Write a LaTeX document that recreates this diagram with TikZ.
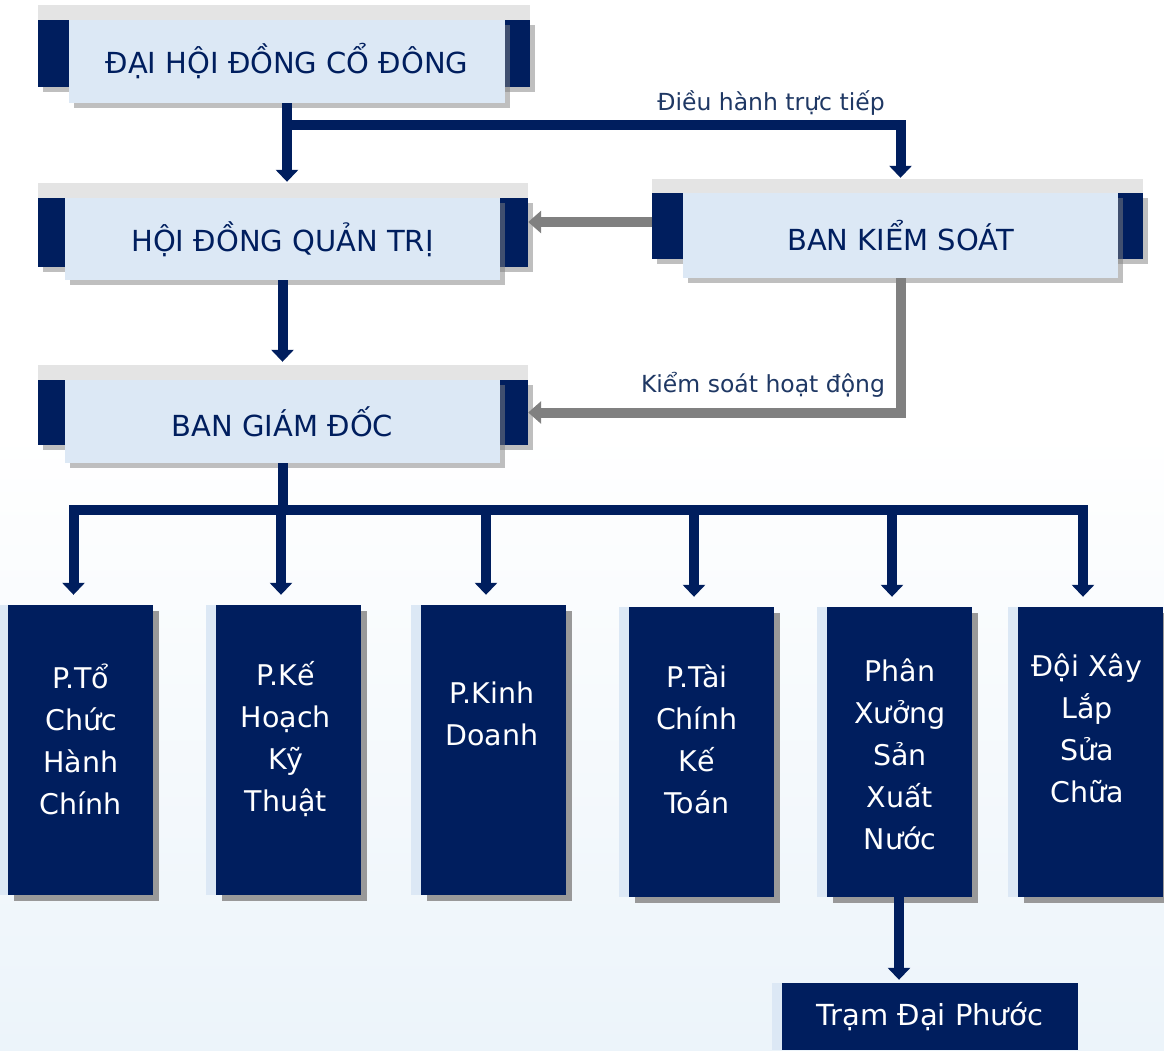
\documentclass[tikz,border=0pt]{standalone}
\usepackage{fontspec}
\setmainfont{DejaVu Sans}
\usetikzlibrary{arrows.meta,shadows,positioning}

\definecolor{navy}{RGB}{0,30,94}
\definecolor{paleblue}{RGB}{220,232,245}
\definecolor{bandgray}{RGB}{228,228,228}
\definecolor{linkgray}{RGB}{128,128,128}
\definecolor{labelblue}{RGB}{31,56,100}
\definecolor{bgblue}{RGB}{236,244,250}

\begin{document}
\begin{tikzpicture}[x=1pt,y=-1pt,
    hdr/.style={fill=paleblue, text=navy, inner sep=0pt, font=\fontsize{29}{34}\selectfont,
        drop shadow={shadow xshift=5pt, shadow yshift=-5pt, opacity=.5}},
    flank/.style={fill=navy, inner sep=0pt,
        drop shadow={shadow xshift=5pt, shadow yshift=-5pt, opacity=.5}},
    dept/.style={fill=navy, minimum width=145pt, minimum height=290pt, inner sep=0pt,
        drop shadow={shadow xshift=6pt, shadow yshift=-6pt, fill=gray!80, opacity=1}},
    depttext/.style={text=white, align=center, font=\fontsize{28.5}{42}\selectfont},
    navyline/.style={draw=navy, line width=10pt},
    navyarrow/.style={navyline, -{Triangle[width=22pt,length=12pt]}},
    grayarrow/.style={draw=linkgray, line width=10pt, -{Triangle[width=22pt,length=13pt]}},
    linklabel/.style={text=labelblue, font=\fontsize{23.5}{28}\selectfont}]

    % Background
    \useasboundingbox (0,0) rectangle (1164,1050);
    \fill[white] (0,0) rectangle (1164,1050);
    \shade[top color=white, bottom color=bgblue] (0,430) rectangle (1164,1050);

    % Header boxes
    \fill[bandgray] (38,5) rectangle (530,20);
    \node[flank, minimum width=492pt, minimum height=67pt] (dhdcdbar) at (284,53.5) {};
    \node[hdr, minimum width=436pt, minimum height=83pt] (dhdcd) at (287,61.5) {ĐẠI HỘI ĐỒNG CỔ ĐÔNG};

    \fill[bandgray] (38,183) rectangle (528,198);
    \node[flank, minimum width=490pt, minimum height=69pt] (hdqtbar) at (283,232.5) {};
    \node[hdr, minimum width=435pt, minimum height=82pt] (hdqt) at (282.5,239) {HỘI ĐỒNG QUẢN TRỊ};

    \fill[bandgray] (652,179) rectangle (1143,193);
    \node[flank, minimum width=491pt, minimum height=66pt] (bksbar) at (897.5,226) {};
    \node[hdr, minimum width=435pt, minimum height=85pt] (bks) at (900.5,235.5) {BAN KIỂM SOÁT};

    \fill[bandgray] (38,365) rectangle (528,380);
    \node[flank, minimum width=490pt, minimum height=65pt] (bgdbar) at (283,412.5) {};
    \node[hdr, minimum width=435pt, minimum height=83pt] (bgd) at (282.5,421.5) {BAN GIÁM ĐỐC};

    % Departments
    \foreach \n/\cx/\cy in {pto/80.5/750, pkh/288/750, pkd/493/750,
                            ptc/701/752, pxsx/899/752, dxl/1090/752} {
        \fill[paleblue] (\cx-82.5,\cy-145) rectangle (\cx-72.5,\cy+145);
        \node[dept] (\n) at (\cx,\cy) {};
    }
    \node[depttext] (ptoT) at (81,739) {P.Tổ\\Chức\\Hành\\Chính};
    \node[depttext] (pkhT) at (286,739) {P.Kế\\Hoạch\\Kỹ\\Thuật};
    \node[depttext] (pkdT) at (492,713.5) {P.Kinh\\Doanh};
    \node[depttext] (ptcT) at (697,739) {P.Tài\\Chính\\Kế\\Toán};
    \node[depttext] (pxsxT) at (900,754) {Phân\\Xưởng\\Sản\\Xuất\\Nước};
    \node[depttext] (dxlT) at (1087,728) {Đội Xây\\Lắp\\Sửa\\Chữa};

    \fill[paleblue] (772,983) rectangle (782,1050);
    \node[fill=navy, text=white, minimum width=296pt, minimum height=67pt, inner sep=0pt,
        font=\fontsize{29}{34}\selectfont] (tram) at (930,1016.5) {Trạm Đại Phước};

    % Connectors
    \draw[navyarrow, shorten >=16pt] (dhdcd.south) -- (dhdcd.south |- hdqtbar.north);
    \draw[navyarrow, shorten >=15pt] (dhdcd.south) ++(0,22) -| (bks.north);
    \node[linklabel] (lblDH) at (771,103) {Điều hành trực tiếp};

    \draw[grayarrow] ([yshift=4pt]bksbar.west) -- ([yshift=4pt]bksbar.west -| hdqtbar.east);
    \draw[grayarrow] (bks.south) |- (bgdbar.east);
    \node[linklabel] (lblKS) at (763,385) {Kiểm soát hoạt động};

    \draw[navyarrow, shorten >=18pt] (hdqt.south) -- (hdqt.south |- bgdbar.north);
    \draw[navyline] (bgd.south) -- ++(0,47) coordinate (bus);
    \draw[navyline, line cap=rect] ([xshift=-7pt]pto.north |- bus) -- ([xshift=-7pt]dxl.north |- bus);
    \foreach \d in {pto,pkh,pkd,ptc,pxsx,dxl}
        \draw[navyarrow, shorten >=10pt] ([xshift=-7pt]\d.north |- bus) -- ([xshift=-7pt]\d.north);
    \draw[navyarrow, shorten >=3pt] (pxsx.south) -- (pxsx.south |- tram.north);
\end{tikzpicture}
\end{document}
